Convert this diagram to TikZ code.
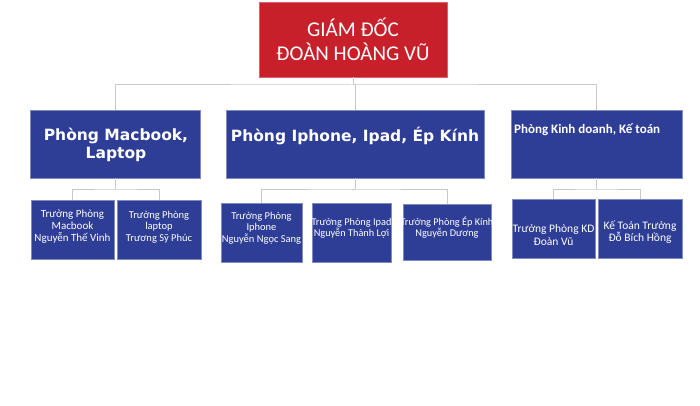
\documentclass[tikz,border=0pt]{standalone}
\usepackage{fontspec}
\setmainfont{Carlito}
\newfontfamily\titlefont{DejaVu Sans}
\definecolor{boxblue}{RGB}{46,61,150}
\definecolor{ceored}{RGB}{200,32,42}
\definecolor{linegray}{RGB}{200,200,200}
\tikzset{
  box/.style={fill=boxblue, draw=boxblue!60!white, line width=0.4pt, inner sep=0pt},
  ceobox/.style={fill=ceored, draw=ceored!70!white, line width=0.4pt, inner sep=0pt, text=white, align=center, font=\fontsize{21}{24}\selectfont},
  ttl/.style={text=white, align=center, inner sep=0pt, font=\titlefont\bfseries\fontsize{15.5}{18}\selectfont},
  ttlsmall/.style={text=white, inner sep=0pt, font=\bfseries\fontsize{13}{15}\selectfont},
  sub/.style={text=white, align=center, inner sep=0pt, font=\fontsize{11}{12}\selectfont},
  conn/.style={draw=linegray, line width=1pt}
}
\begin{document}
\begin{tikzpicture}[x=1pt,y=-1pt]
\useasboundingbox (0,0) rectangle (700,406);
% CEO
\node[ceobox, minimum width=188pt, minimum height=75pt] (ceo) at (353,39.5) {GIÁM ĐỐC\\ĐOÀN HOÀNG VŨ};
% departments
\node[box, minimum width=170pt, minimum height=68pt] (b1) at (115,144) {};
\node[box, minimum width=258pt, minimum height=68pt] (b2) at (355,144) {};
\node[box, minimum width=171pt, minimum height=68pt] (b3) at (596.5,144) {};
\node[ttl] (b1t) at (116,145) {Phòng Macbook,\\Laptop};
\node[ttl] (b2t) at (355,136) {Phòng Iphone, Ipad, Ép Kính};
\node[ttlsmall, anchor=west] (b3t) at (514,130) {Phòng Kinh doanh, Kế toán};
% sub boxes
\node[box, minimum width=83pt, minimum height=59pt] (ca) at (72.5,229.5) {};
\node[box, minimum width=84pt, minimum height=59pt] (cb) at (159,229.5) {};
\node[box, minimum width=81pt, minimum height=59pt] (cc) at (261.5,232.5) {};
\node[box, minimum width=79pt, minimum height=59pt] (cd) at (351.5,232.5) {};
\node[box, minimum width=88pt, minimum height=56pt] (ce) at (447,232) {};
\node[box, minimum width=83pt, minimum height=59pt] (cf) at (553.5,228.5) {};
\node[box, minimum width=84pt, minimum height=59pt] (cg) at (640,228.5) {};
\node[sub] (cat) at (72.5,227) {Trưởng Phòng\\Macbook\\Nguyễn Thế Vinh};
\node[sub, font=\fontsize{10.5}{11.5}\selectfont] (cbt) at (159,227) {Trưởng Phòng\\laptop\\Trương Sỹ Phúc};
\node[sub, font=\fontsize{10.5}{11.5}\selectfont] (cct) at (261.5,228) {Trưởng Phòng\\Iphone\\Nguyễn Ngọc Sang};
\node[sub, font=\fontsize{10.3}{11}\selectfont] (cdt) at (351.5,228) {Trưởng Phòng Ipad\\Nguyễn Thành Lợi};
\node[sub, font=\fontsize{10.3}{11}\selectfont] (cet) at (447,228) {Trưởng Phòng Ép Kính\\Nguyễn Dương};
\node[sub, font=\fontsize{11.5}{13}\selectfont] (cft) at (553.5,235.5) {Trưởng Phòng KD\\Đoàn Vũ};
\node[sub, font=\fontsize{11.5}{12.5}\selectfont] (cgt) at (640,232) {Kế Toán Trưởng\\Đỗ Bích Hồng};
% connectors level 1
\coordinate (bus) at (ceo.south |- 0,85);
\draw[conn] (ceo.south) -- (bus);
\draw[conn] (b1.north) |- (bus) -| (b3.north);
\draw[conn] (bus) -| (b2.north);
% connectors level 2
\coordinate (bus1) at (b1.south |- 0,189);
\coordinate (bus2) at (b2.south |- 0,189);
\coordinate (bus3) at (b3.south |- 0,189);
\draw[conn] (b1.south) -- (bus1);
\draw[conn] (ca.north) |- (bus1) -| (cb.north);
\draw[conn] (b2.south) -- (bus2);
\draw[conn] (cc.north) |- (bus2) -| (ce.north);
\draw[conn] (bus2) -- (cd.north |- bus2);
\draw[conn] (b3.south) -- (bus3);
\draw[conn] (cf.north) |- (bus3) -| (cg.north);
\end{tikzpicture}
\end{document}
